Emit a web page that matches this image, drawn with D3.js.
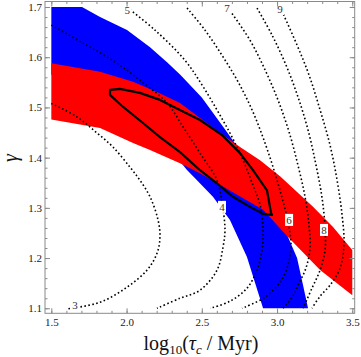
<!DOCTYPE html>
<html>
<head>
<meta charset="utf-8">
<script src="https://cdn.jsdelivr.net/npm/d3@7"></script>
<style>
  body { margin: 0; background: #fff; }
  text { font-family: "Liberation Serif", "DejaVu Serif", serif; }
</style>
</head>
<body>
<svg id="chart" width="361" height="357"></svg>
<script>
// axis ticks
var xMajor = [1.5, 2.0, 2.5, 3.0, 3.5];
var xTickLabels = ["1.5", "2.0", "2.5", "3.0", "3.5"];
var yMajor = [1.1, 1.2, 1.3, 1.4, 1.5, 1.6, 1.7];
var yTickLabels = ["1.1", "1.2", "1.3", "1.4", "1.5", "1.6", "1.7"];

// blue allowed band [log10 tau, gamma]
var blueUpper = [[1.5, 1.7], [1.704, 1.7], [1.824, 1.680], [2.003, 1.654], [2.156, 1.620],
  [2.269, 1.590], [2.357, 1.565], [2.5, 1.52], [2.65, 1.458], [2.8, 1.395], [2.89, 1.355],
  [2.98, 1.30], [3.073, 1.242], [3.133, 1.2], [3.17, 1.15], [3.206, 1.1]];
var blueLower = [[2.907, 1.1], [2.8, 1.202], [2.687, 1.276], [2.574, 1.322], [2.468, 1.355],
  [2.4, 1.376], [2.2, 1.45], [1.9, 1.53], [1.5, 1.565]];

// red allowed band
var redUpper = [[1.5, 1.588], [1.824, 1.571], [2.043, 1.551], [2.202, 1.531], [2.355, 1.509],
  [2.488, 1.479], [2.641, 1.445], [2.754, 1.421], [2.887, 1.395], [3.020, 1.363],
  [3.239, 1.302], [3.372, 1.262], [3.5, 1.216]];
var redLower = [[3.5, 1.126], [3.286, 1.176], [3.073, 1.242], [2.907, 1.296], [2.488, 1.369],
  [2.355, 1.389], [2.156, 1.415], [2.043, 1.429], [1.824, 1.459], [1.5, 1.476]];

// black joint contour
var jointContour = [[1.890, 1.535], [1.956, 1.537], [2.089, 1.529], [2.222, 1.515], [2.355, 1.495],
  [2.488, 1.475], [2.634, 1.445], [2.754, 1.409], [2.840, 1.375], [2.933, 1.335], [2.960, 1.290],
  [2.967, 1.286], [2.907, 1.288], [2.820, 1.302], [2.707, 1.322], [2.601, 1.349], [2.488, 1.375],
  [2.355, 1.411], [2.222, 1.441], [2.109, 1.469], [1.977, 1.501], [1.890, 1.525]];

// dotted contours
var contour3 = [[1.5, 1.508], [1.671, 1.481], [1.804, 1.449], [1.910, 1.421], [2.023, 1.381],
  [2.089, 1.355], [2.156, 1.322], [2.209, 1.276], [2.222, 1.242], [2.203, 1.210], [2.136, 1.176],
  [2.003, 1.142], [1.824, 1.112], [1.61, 1.099]];
var contour4 = [[1.5, 1.664], [1.711, 1.628], [1.937, 1.588], [2.110, 1.549], [2.269, 1.509],
  [2.376, 1.461], [2.488, 1.409], [2.601, 1.355], [2.634, 1.310], [2.654, 1.256], [2.641, 1.222],
  [2.601, 1.176], [2.488, 1.136], [2.355, 1.120], [2.202, 1.100]];
var contour5 = [[2.0, 1.70], [2.189, 1.654], [2.388, 1.594], [2.501, 1.545], [2.601, 1.495],
  [2.694, 1.445], [2.774, 1.395], [2.840, 1.345], [2.887, 1.306], [2.907, 1.256], [2.900, 1.216],
  [2.867, 1.176], [2.800, 1.140], [2.687, 1.114], [2.555, 1.100]];
var contour6 = [[2.402, 1.698], [2.521, 1.654], [2.634, 1.604], [2.741, 1.551], [2.834, 1.495],
  [2.913, 1.435], [2.980, 1.375], [3.033, 1.320], [3.073, 1.272], [3.093, 1.226], [3.073, 1.186],
  [3.020, 1.152], [2.920, 1.122], [2.767, 1.100]];
var contour7 = [[2.67, 1.70], [2.820, 1.634], [2.920, 1.575], [3.006, 1.515], [3.080, 1.451],
  [3.139, 1.385], [3.186, 1.322], [3.212, 1.266], [3.219, 1.220], [3.192, 1.180], [3.139, 1.146],
  [3.100, 1.122], [3.040, 1.100]];
var contour8 = [[2.867, 1.698], [2.967, 1.644], [3.060, 1.584], [3.139, 1.521], [3.206, 1.455],
  [3.259, 1.385], [3.299, 1.320], [3.319, 1.260], [3.319, 1.216], [3.286, 1.176], [3.232, 1.140],
  [3.173, 1.100]];
var contour9 = [[3.02, 1.70], [3.133, 1.624], [3.212, 1.565], [3.286, 1.495], [3.352, 1.425],
  [3.399, 1.355], [3.432, 1.286], [3.445, 1.226], [3.419, 1.180], [3.352, 1.146], [3.286, 1.124],
  [3.232, 1.100]];
var dottedContours = [contour3, contour4, contour5, contour6, contour7, contour8, contour9];

// contour labels
var labelText = ["3", "4", "5", "6", "7", "8", "9"];
var labelX = [1.658, 2.634, 2.004, 3.08, 2.668, 3.312, 3.020];
var labelY = [1.106, 1.302, 1.694, 1.276, 1.698, 1.256, 1.696];

var svg = d3.select("#chart");
var padL = 45, padR = 354.7, padT = 1.5, padB = 313.3;

var x = d3.scaleLinear().domain([1.458, 3.516]).range([padL, padR]);
var y = d3.scaleLinear().domain([1.090, 1.711]).range([padB, padT]);

svg.append("clipPath").attr("id", "clip")
  .append("rect").attr("x", padL).attr("y", padT)
  .attr("width", padR - padL).attr("height", padB - padT);

var plot = svg.append("g").attr("clip-path", "url(#clip)");

var poly = d3.line().x(d => x(d[0])).y(d => y(d[1]));
var smooth = d3.line().x(d => x(d[0])).y(d => y(d[1])).curve(d3.curveCatmullRom);

plot.append("path")
  .attr("d", poly(blueUpper.concat(blueLower)) + "Z")
  .attr("fill", "#0000ff");

plot.append("path")
  .attr("d", poly(redUpper.concat(redLower)) + "Z")
  .attr("fill", "#ff0000");

plot.selectAll(".dotted")
  .data(dottedContours)
  .enter()
  .append("path")
  .attr("class", "dotted")
  .attr("d", d => smooth(d))
  .attr("fill", "none")
  .attr("stroke", "#000")
  .attr("stroke-width", 1.6)
  .attr("stroke-dasharray", "1.6,2.4");

plot.append("path")
  .attr("d", poly(jointContour) + "Z")
  .attr("fill", "none")
  .attr("stroke", "#000")
  .attr("stroke-width", 2.2)
  .attr("stroke-linejoin", "round");

// contour labels on white boxes
var lab = plot.selectAll(".clab")
  .data(labelText)
  .enter()
  .append("g")
  .attr("class", "clab")
  .attr("transform", (d, i) => `translate(${x(labelX[i])},${y(labelY[i])})`);
lab.append("rect")
  .attr("x", -4).attr("y", -6).attr("width", 8).attr("height", 12)
  .attr("fill", "#fff");
lab.append("text")
  .attr("text-anchor", "middle")
  .attr("dy", "0.35em")
  .attr("font-size", 11)
  .attr("fill", "#333")
  .text(d => d);

// frame and ticks (inward on all four sides)
var frameColor = "#8a8a8a";
var xMinor = d3.range(1.5, 3.51, 0.1);
var yMinor = d3.range(1.1, 1.701, 0.02);

function styleAxis(g) {
  g.select(".domain").remove();
  g.selectAll("line").attr("stroke", frameColor);
  g.selectAll("text").attr("fill", "#222").attr("font-size", 11)
    .style("font-family", '"Liberation Serif", serif');
}

svg.append("g").attr("transform", `translate(0,${padB})`)
  .call(d3.axisBottom(x).tickValues(xMinor).tickSize(-2.5).tickFormat(""))
  .call(styleAxis);
svg.append("g").attr("transform", `translate(0,${padB})`)
  .call(d3.axisBottom(x).tickValues(xMajor).tickSize(-5).tickPadding(5)
    .tickFormat((d, i) => xTickLabels[i]))
  .call(styleAxis);
svg.append("g").attr("transform", `translate(0,${padT})`)
  .call(d3.axisTop(x).tickValues(xMinor).tickSize(-2.5).tickFormat(""))
  .call(styleAxis);
svg.append("g").attr("transform", `translate(0,${padT})`)
  .call(d3.axisTop(x).tickValues(xMajor).tickSize(-5).tickFormat(""))
  .call(styleAxis);

svg.append("g").attr("transform", `translate(${padL},0)`)
  .call(d3.axisLeft(y).tickValues(yMinor).tickSize(-2.5).tickFormat(""))
  .call(styleAxis);
svg.append("g").attr("transform", `translate(${padL},0)`)
  .call(d3.axisLeft(y).tickValues(yMajor).tickSize(-5).tickPadding(3)
    .tickFormat((d, i) => yTickLabels[i]))
  .call(styleAxis);
svg.append("g").attr("transform", `translate(${padR},0)`)
  .call(d3.axisRight(y).tickValues(yMinor).tickSize(-2.5).tickFormat(""))
  .call(styleAxis);
svg.append("g").attr("transform", `translate(${padR},0)`)
  .call(d3.axisRight(y).tickValues(yMajor).tickSize(-5).tickFormat(""))
  .call(styleAxis);

svg.append("rect")
  .attr("x", padL).attr("y", padT)
  .attr("width", padR - padL).attr("height", padB - padT)
  .attr("fill", "none")
  .attr("stroke", frameColor)
  .attr("stroke-width", 1);

// axis titles
var xt = svg.append("text")
  .attr("x", 201).attr("y", 350)
  .attr("text-anchor", "middle")
  .attr("font-size", 20)
  .attr("fill", "#111");
xt.append("tspan").text("log");
xt.append("tspan").attr("font-size", 13).attr("dy", 4).text("10");
xt.append("tspan").attr("dy", -4).text("(");
xt.append("tspan").attr("font-style", "italic").text("τ");
xt.append("tspan").attr("font-size", 13).attr("font-style", "italic").attr("dy", 4).text("c");
xt.append("tspan").attr("dy", -4).text(" / Myr)");

svg.append("text")
  .attr("transform", "translate(17,158) rotate(-90)")
  .attr("text-anchor", "middle")
  .attr("font-size", 20)
  .attr("font-style", "italic")
  .attr("fill", "#111")
  .text("γ");
</script>
</body>
</html>
